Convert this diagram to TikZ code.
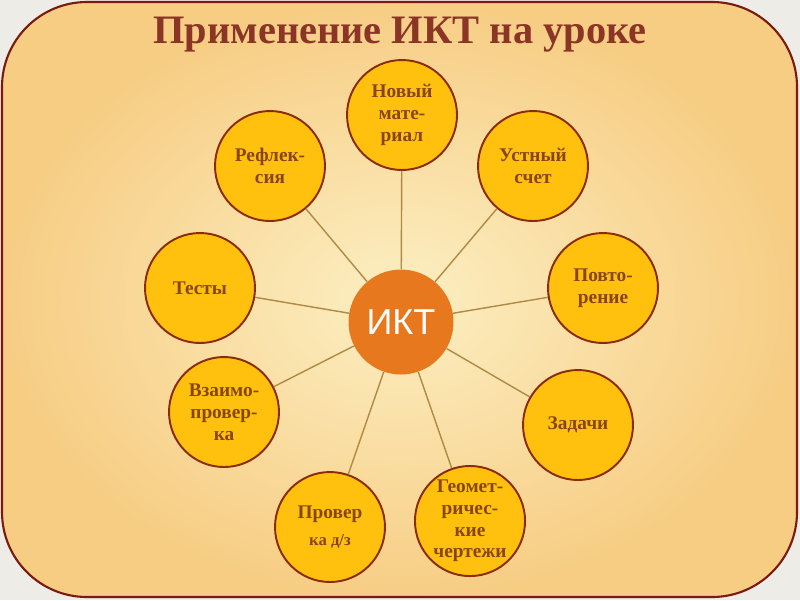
\documentclass[tikz,border=0pt]{standalone}
\usepackage{fontspec}
\setmainfont{Liberation Serif}
\setsansfont{Liberation Sans}

\definecolor{bggray}{HTML}{EDECE6}
\definecolor{bgpale}{HTML}{FCEFC3}
\definecolor{bgorange}{HTML}{F7CD84}
\definecolor{framecol}{HTML}{7A1A10}
\definecolor{titlecol}{HTML}{8A3526}
\definecolor{circfill}{HTML}{FFC10E}
\definecolor{circline}{HTML}{8B2A0C}
\definecolor{themetext}{HTML}{874512}
\definecolor{iktfill}{HTML}{E8781E}
\definecolor{spokecol}{HTML}{B08A44}

\tikzset{
  theme/.style={circle,draw=circline,line width=1.1pt,fill=circfill,
    minimum size=2.2cm,inner sep=0pt,align=center,text=themetext,
    font=\bfseries\fontsize{11}{12.4}\selectfont},
  spoke/.style={color=spokecol,line width=0.8pt}
}

\begin{document}
\begin{tikzpicture}[x=0.02cm,y=-0.02cm]
  \useasboundingbox (0,0) rectangle (800,600);
  \fill[color=bggray] (0,0) rectangle (800,600);

  \shade[inner color=bgpale,outer color=bgorange,rounded corners=1.7cm] (2,2) rectangle (797,597);
  \draw[color=framecol,line width=1.2pt,rounded corners=1.7cm] (2,2) rectangle (797,597);

  \node (title) at (400,35) [font=\bfseries\fontsize{23}{23}\selectfont,color=titlecol]
    {Применение ИКТ на уроке};

  \node (ikt) at (401,322) [circle,fill=iktfill,minimum size=2.1cm,inner sep=0pt,
    text=white,font=\sffamily\fontsize{20.5}{20.5}\selectfont] {ИКТ};

  \node (nov) at (402,115) [theme] {Новый\\мате-\\риал};
  \node (refl) at (270,166) [theme] {Рефлек-\\сия};
  \node (ust) at (533,166) [theme] {Устный\\счет};
  \node (test) at (200,288) [theme] {Тесты};
  \node (povt) at (603,288) [theme] {Повто-\\рение};
  \node (vzaim) at (224,412) [theme] {Взаимо-\\провер-\\ка};
  \node (zad) at (578,425) [theme] {Задачи};
  \node (prov) at (330,527) [theme] {Провер\\[3pt]{\fontsize{9.5}{11}\selectfont ка д/з}};
  \node (geom) at (470,521) [theme] {Геомет-\\ричес-\\кие\\чертежи};

  \foreach \n in {nov,refl,ust,test,povt,vzaim,zad,prov,geom}
    \draw[spoke] (ikt) -- (\n);

\end{tikzpicture}
\end{document}
